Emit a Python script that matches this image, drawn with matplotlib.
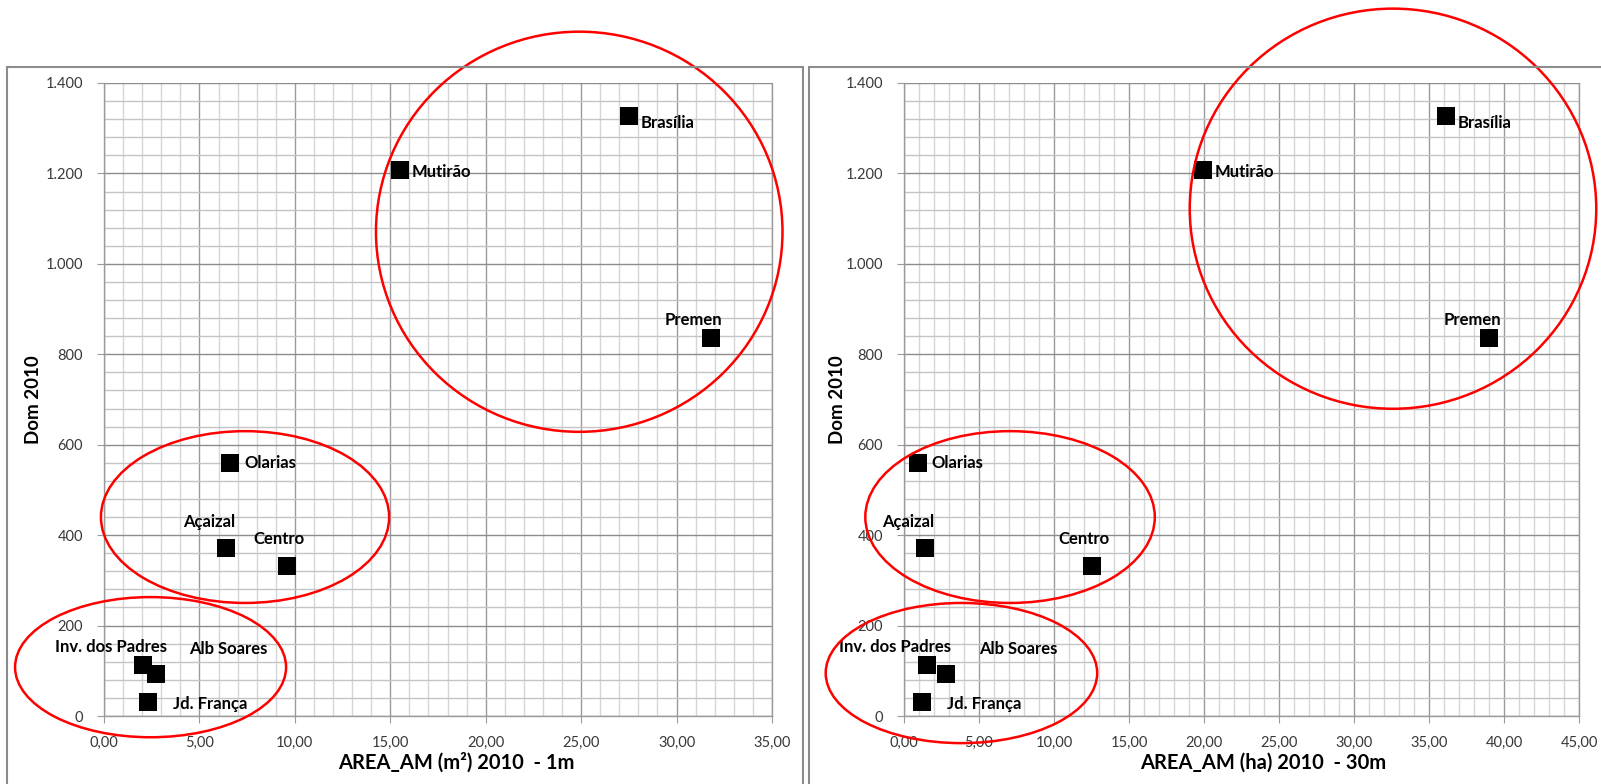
import matplotlib
matplotlib.use("Agg")
import matplotlib.pyplot as plt
from matplotlib.patches import Ellipse, Rectangle
from matplotlib.ticker import FuncFormatter, MultipleLocator

# ---------------- data ----------------
names = ["Brasília", "Mutirão", "Premen", "Olarias", "Açaizal", "Centro",
         "Inv. dos Padres", "Alb Soares", "Jd. França"]
dom_2010 = [1327, 1207, 836, 560, 372, 332, 113, 93, 31]
area_am_1m = [27.5, 15.5, 31.8, 6.6, 6.4, 9.6, 2.05, 2.75, 2.3]
area_am_30m = [36.1, 19.9, 39.0, 0.9, 1.4, 12.5, 1.5, 2.8, 1.2]

xlabel_1m = "AREA_AM (m²) 2010  - 1m"
xlabel_30m = "AREA_AM (ha) 2010  - 30m"
ylabel = "Dom 2010"

# ---------------- styling / layout ----------------
FONT = "Lato"
plt.rcParams["font.family"] = [FONT, "DejaVu Sans"]

# label placement: (dx px, dy px, ha)
label_style = {
    "Brasília": (12, -7, "left"),
    "Mutirão": (12, -2, "left"),
    "Premen": (-17, 18, "center"),
    "Olarias": (14, 0, "left"),
    "Açaizal": (-17, 26, "center"),
    "Centro": (-8, 27, "center"),
    "Inv. dos Padres": (-32, 18, "center"),
    "Alb Soares": (72, 25, "center"),
    "Jd. França": (25, -2, "left"),
}

# highlight ellipses (cx, cy, width, height) in data units
ellipses_1m = [(24.9, 1071, 21.3, 885), (7.39, 440, 15.1, 380), (2.44, 108, 14.2, 310)]
ellipses_30m = [(32.6, 1122, 27.1, 885), (7.07, 440, 19.3, 380), (3.83, 95, 18.1, 310)]

W, H = 1601, 784
fig = plt.figure(figsize=(W / 100, H / 100), dpi=100)

# panel frames
for x0, x1 in [(7, 803), (809, 1620)]:
    fig.patches.append(Rectangle((x0 / W, -0.02), (x1 - x0) / W, (H - 67) / H + 0.02,
                                 transform=fig.transFigure, fill=False,
                                 edgecolor="#8c8c8c", linewidth=1.5, zorder=0))

bottom = (H - 716) / H
height = (716 - 83) / H
ax1 = fig.add_axes([104 / W, bottom, 668 / W, height])
ax2 = fig.add_axes([904 / W, bottom, 675 / W, height])

yfmt = FuncFormatter(lambda v, p: f"{v:,.0f}".replace(",", "."))
xfmt = FuncFormatter(lambda v, p: f"{v:.2f}".replace(".", ","))


def draw(ax, xs, xmax, xlabel, ellipses, ylab_x, xlab_x):
    ax.set_xlim(0, xmax)
    ax.set_ylim(0, 1400)
    ax.xaxis.set_major_locator(MultipleLocator(5))
    ax.xaxis.set_minor_locator(MultipleLocator(1))
    ax.yaxis.set_major_locator(MultipleLocator(200))
    ax.yaxis.set_minor_locator(MultipleLocator(40))
    ax.xaxis.set_major_formatter(xfmt)
    ax.yaxis.set_major_formatter(yfmt)
    ax.xaxis.grid(True, which="major", color="#9a9a9a", linewidth=1.0)
    ax.xaxis.grid(True, which="minor", color="#d6d6d6", linewidth=1.0)
    ax.yaxis.grid(True, which="major", color="#8c8c8c", linewidth=1.0)
    ax.yaxis.grid(True, which="minor", color="#c4c4c4", linewidth=1.0)
    ax.set_axisbelow(True)
    ax.tick_params(which="major", direction="out", length=5, color="#9a9a9a",
                   labelsize=10.5, labelcolor="#383838")
    ax.tick_params(axis="x", which="major", pad=9)
    ax.tick_params(axis="y", which="major", pad=10)
    ax.tick_params(which="minor", length=0)
    ax.spines["top"].set_visible(False)
    for s in ["left", "bottom", "right"]:
        ax.spines[s].set_color("#9a9a9a")
        ax.spines[s].set_linewidth(1.0)

    ax.scatter(xs, dom_2010, marker="s", s=150, color="black", zorder=5,
               linewidths=0)
    for n, x, y in zip(names, xs, dom_2010):
        dx, dy, ha = label_style[n]
        ax.annotate(n, (x, y), xytext=(dx, dy), textcoords="offset pixels",
                    ha=ha, va="center", fontsize=12, fontweight="bold",
                    color="black", zorder=6)

    for cx, cy, w, h in ellipses:
        ax.add_patch(Ellipse((cx, cy), w, h, fill=False, edgecolor="#ff0000",
                             linewidth=1.8, clip_on=False, zorder=7))

    ax.set_xlabel(xlabel, fontsize=14.5, fontweight="bold")
    ax.set_ylabel(ylabel, fontsize=13.5, fontweight="bold")
    ax.xaxis.set_label_coords(xlab_x, -0.073)
    ax.yaxis.set_label_coords(ylab_x, 0.5)
    ax.xaxis.label.set_va("center")
    ax.yaxis.label.set_va("center")


draw(ax1, area_am_1m, 35, xlabel_1m, ellipses_1m, -0.105, 0.527)
draw(ax2, area_am_30m, 45, xlabel_30m, ellipses_30m, -0.099, 0.532)

fig.savefig("out.png", dpi=100)
